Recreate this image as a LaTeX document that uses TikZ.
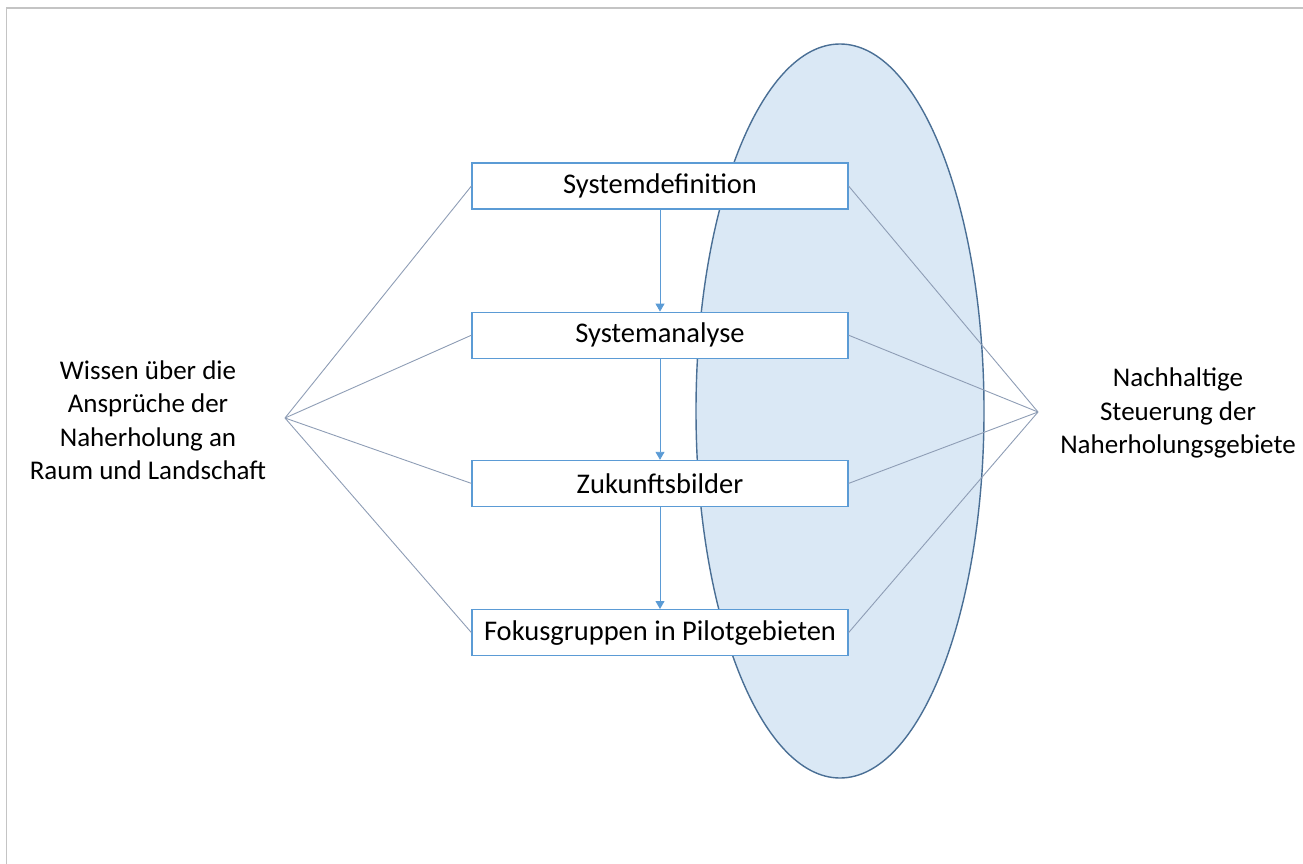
\documentclass[tikz,border=0pt]{standalone}
\usepackage{fontspec}
\setmainfont{Carlito}
\usetikzlibrary{arrows.meta,positioning}

\definecolor{boxblue}{HTML}{5B9BD5}
\definecolor{ellfill}{HTML}{DAE8F5}
\definecolor{elldraw}{HTML}{4A6F95}
\definecolor{fanline}{HTML}{8E9DB5}
\definecolor{framegray}{HTML}{C4C4C4}

\tikzset{
  stepbox/.style={draw=boxblue, line width=1.2pt, fill=white,
                  minimum width=376pt, minimum height=46pt, inner sep=0pt,
                  font=\fontsize{28.5}{34}\selectfont},
  flow/.style={draw=boxblue, line width=0.9pt, -{Triangle[width=9pt,length=8pt]}},
  fan/.style={draw=fanline, line width=0.9pt},
  sidetext/.style={align=center, inner sep=0pt}
}

\begin{document}
\begin{tikzpicture}[x=1pt, y=-1pt, font=\fontsize{27}{33.5}\selectfont]
  \useasboundingbox (0,0) rectangle (1303,864);
  % frame
  \draw[framegray, line width=1.6pt] (6.5,864) -- (6.5,8) -- (1303,8);

  % ellipse
  \draw[elldraw, line width=1.4pt, fill=ellfill] (840,411) ellipse [x radius=144, y radius=367];

  % fan points and side texts
  \coordinate (lfan) at (285,418);
  \coordinate (rfan) at (1038,412);
  \node[sidetext] (wissen) at (148,420)
    {Wissen über die\\Ansprüche der\\Naherholung an\\Raum und Landschaft};
  \node[sidetext] (steuerung) at (1178,413)
    {Nachhaltige\\Steuerung der\\Naherholungsgebiete};

  % steps
  \node[stepbox] (sysdef) at (660,186) {Systemdefinition};
  \node[stepbox, below=102pt of sysdef] (sysana) {Systemanalyse};
  \node[stepbox, below=101pt of sysana] (zukunft) {Zukunftsbilder};
  \node[stepbox, below=102pt of zukunft] (fokus) {Fokusgruppen in Pilotgebieten};

  \foreach \a/\b in {sysdef/sysana, sysana/zukunft, zukunft/fokus}
    \draw[flow] (\a.south) -- (\b.north);

  \foreach \n in {sysdef, sysana, zukunft, fokus} {
    \draw[fan] (lfan) -- (\n.west);
    \draw[fan] (\n.east) -- (rfan);
  }
\end{tikzpicture}
\end{document}
